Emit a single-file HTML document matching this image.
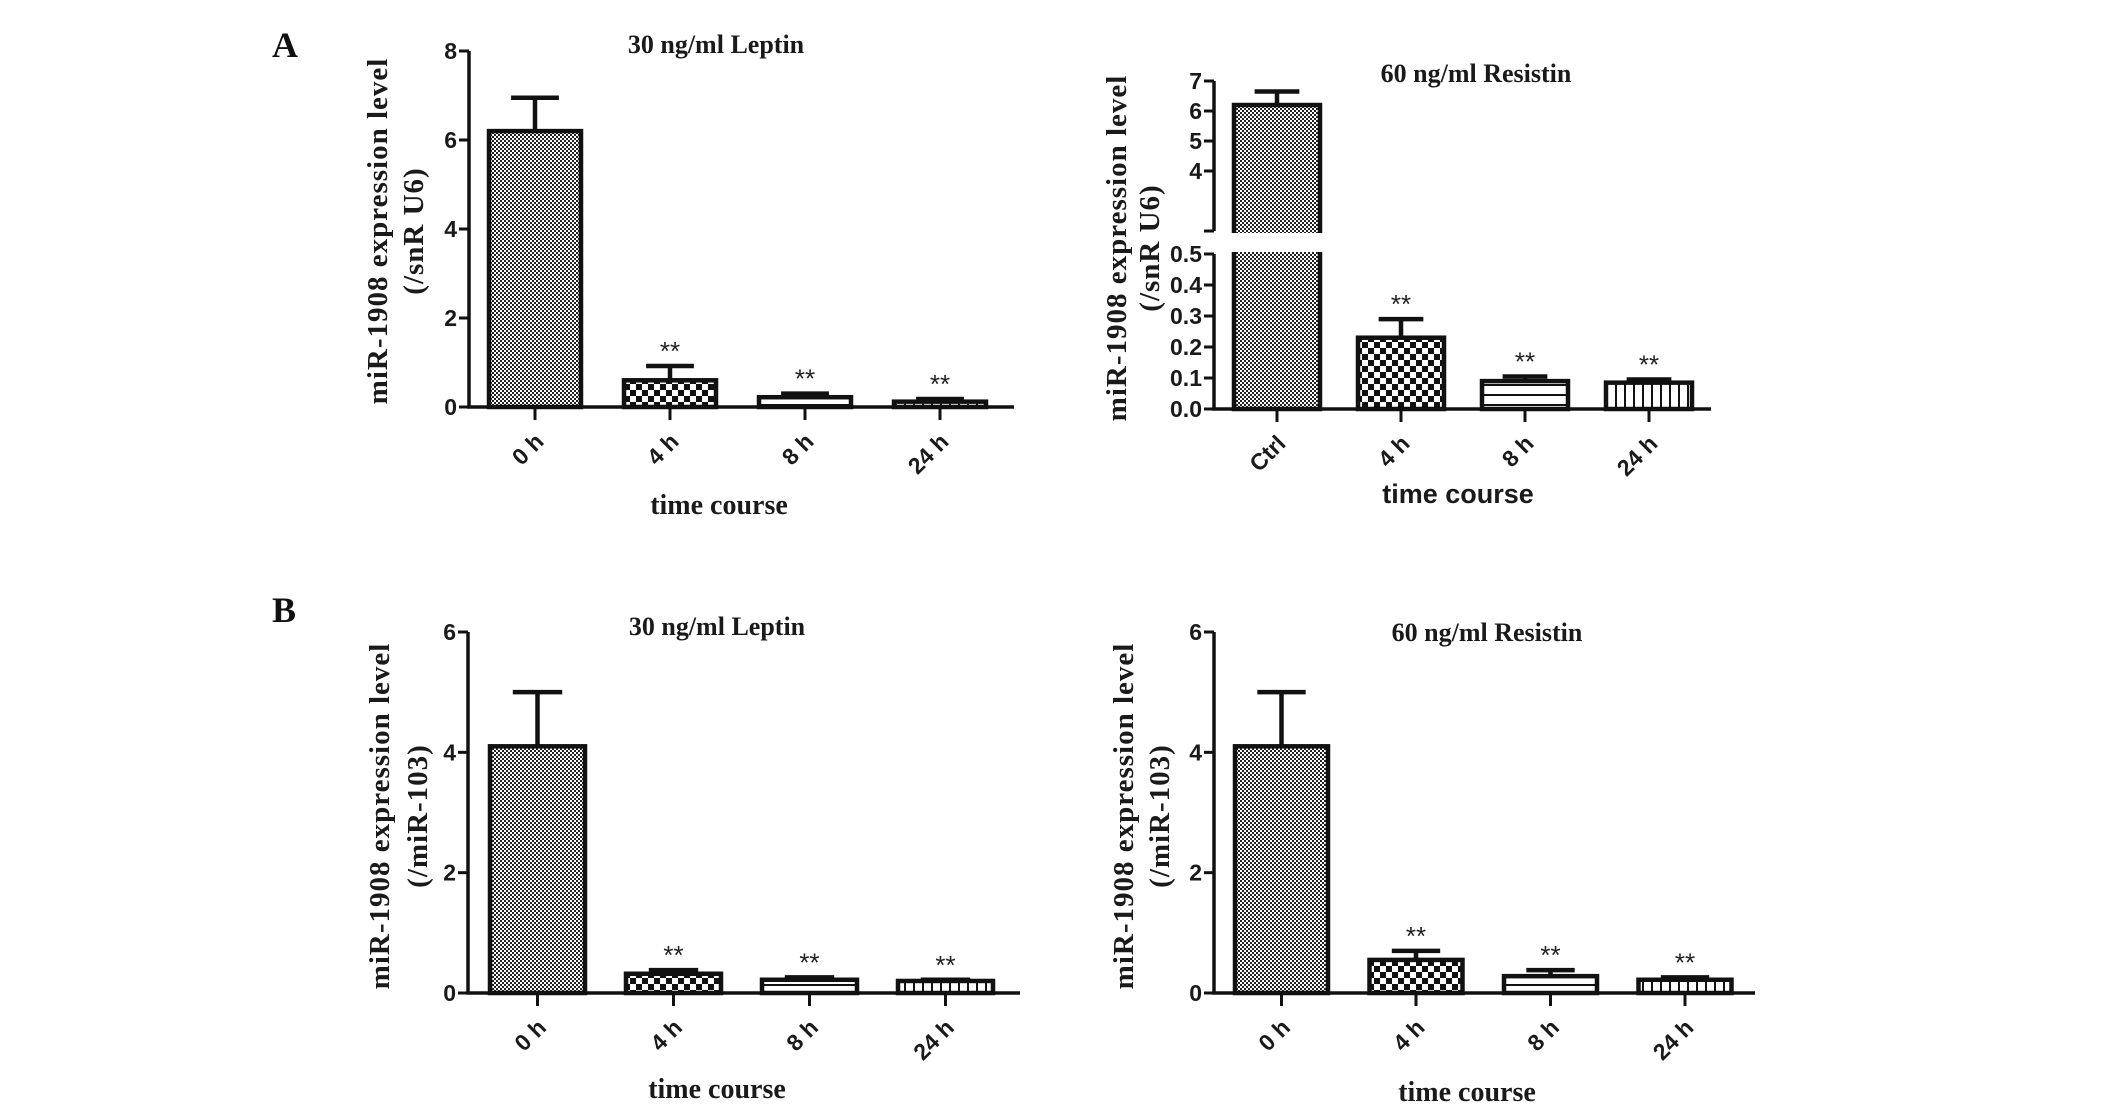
<!DOCTYPE html>
<html><head><meta charset="utf-8"><style>
html,body{margin:0;padding:0;background:#fff;}
svg{display:block;}
.tk{font-family:"Liberation Sans",Arial,sans-serif;font-weight:bold;font-size:23px;fill:#1a1a1a;}
.xk{font-family:"Liberation Sans",Arial,sans-serif;font-weight:bold;font-size:23px;fill:#1a1a1a;}
.tt{font-family:"Liberation Serif",serif;font-weight:bold;font-size:26px;fill:#1a1a1a;}
.tc{font-family:"Liberation Serif",serif;font-weight:bold;font-size:28px;fill:#1a1a1a;}
.tca{font-family:"Liberation Sans",sans-serif;font-weight:bold;font-size:27px;fill:#1a1a1a;}
.yl{font-family:"Liberation Serif",serif;font-weight:bold;font-size:29px;fill:#1a1a1a;letter-spacing:1px;}
.pl{font-family:"Liberation Serif",serif;font-weight:bold;font-size:36px;fill:#111;}
.st{font-family:"Liberation Sans",sans-serif;font-size:26px;fill:#222;}
</style></head><body>
<svg id="fig" width="2126" height="1110" viewBox="0 0 2126 1110" xmlns="http://www.w3.org/2000/svg">
<defs>
<pattern id="p0" width="4" height="4" patternUnits="userSpaceOnUse"><rect width="4" height="4" fill="#fff"/><rect width="2" height="2" fill="#222"/><rect x="2" y="2" width="2" height="2" fill="#222"/></pattern>
<pattern id="p1" width="12" height="12" patternUnits="userSpaceOnUse"><rect width="12" height="12" fill="#fff"/><rect width="6" height="6" fill="#111"/><rect x="6" y="6" width="6" height="6" fill="#111"/></pattern>
<pattern id="p2" width="10" height="10" patternUnits="userSpaceOnUse"><rect width="10" height="10" fill="#fff"/><rect y="4" width="10" height="2" fill="#111"/></pattern>
<pattern id="p3" width="9" height="10" patternUnits="userSpaceOnUse"><rect width="9" height="10" fill="#fff"/><rect x="4" width="2" height="10" fill="#111"/></pattern>
</defs>
<text class="pl" x="272" y="57">A</text>
<text class="pl" x="272" y="622">B</text>
</svg>
<script>
// Panel A left: 30 ng/ml Leptin (/snR U6)
const catsA1 = ["0 h","4 h","8 h","24 h"];
const valsA1 = [6.2, 0.6, 0.22, 0.12];
const errsA1 = [6.95, 0.92, 0.30, 0.18];
const ticksA1 = [0,2,4,6,8];
// Panel A right: 60 ng/ml Resistin (broken axis)
const catsA2 = ["Ctrl","4 h","8 h","24 h"];
const valsA2 = [6.2, 0.23, 0.09, 0.085];
const errsA2 = [6.65, 0.29, 0.105, 0.095];
const ticksA2Low = [0.0,0.1,0.2,0.3,0.4,0.5];
const ticksA2High = [4,5,6,7];
// Panel B left
const catsB1 = ["0 h","4 h","8 h","24 h"];
const valsB1 = [4.1, 0.32, 0.22, 0.20];
const errsB1 = [5.0, 0.38, 0.26, 0.22];
const ticksB1 = [0,2,4,6];
// Panel B right
const catsB2 = ["0 h","4 h","8 h","24 h"];
const valsB2 = [4.1, 0.55, 0.28, 0.22];
const errsB2 = [5.0, 0.70, 0.38, 0.26];
const ticksB2 = [0,2,4,6];
const stars = ["","**","**","**"];

const NS="http://www.w3.org/2000/svg";
const svg=document.getElementById('fig');
function mk(tag,attrs,parent){const e=document.createElementNS(NS,tag);for(const k in attrs)e.setAttribute(k,attrs[k]);(parent||svg).appendChild(e);return e;}
function txt(cls,x,y,s,anchor,parent,extra){const t=mk('text',Object.assign({class:cls,x:x,y:y,'text-anchor':anchor||'middle'},extra||{}),parent);t.textContent=s;return t;}

function panel(o){
  const g=mk('g',{});
  
  
  const yScale=o.yScale;
  const step=o.step, bw=o.bw;
  const xc=i=>o.x0+o.first+i*step+bw/2;
  o.cats.forEach((c,i)=>{
    const v=o.vals[i], e=o.errs[i];
    const x=xc(i)-bw/2, yt=yScale(v), yb=o.y0;
    const eb=mk('path',{d:`M${xc(i)} ${yt} V${yScale(e)} M${xc(i)-bw*0.26} ${yScale(e)} H${xc(i)+bw*0.26}`,stroke:'#111','stroke-width':4.5,fill:'none'},g);
    
    
    const r=mk('rect',{x:x,y:yt,width:bw,height:yb-yt,fill:'url(#p'+i+')',stroke:'#111','stroke-width':4.5},g);
    
    
    if(stars[i]){const s=txt('st',xc(i),yScale(e)-6,stars[i],'middle',g);
      
      }
    const tk=mk('line',{x1:xc(i),x2:xc(i),y1:o.y0,y2:o.y0+13,stroke:'#111','stroke-width':3},g);
    
    
    const lx=xc(i)+10, ly=o.y0+36;
    const lt=txt('xk',lx,ly,c,'end',g,{transform:`rotate(-45 ${lx} ${ly})`});
    
    
  });
  if(o.gap){const gp=mk('rect',{x:o.x0-12,y:o.gap[0],width:o.first+bw+24,height:o.gap[1]-o.gap[0],fill:'#fff'},g);
    
    }
  o.segs.forEach(sg=>{const a=mk('line',{x1:o.x0,x2:o.x0,y1:sg[0],y2:sg[1],stroke:'#111','stroke-width':3.5},g);
    
    });
  o.ticks.forEach((t,k)=>{const y=yScale(t);
    const l=mk('line',{x1:o.x0-10,x2:o.x0,y1:y,y2:y,stroke:'#111','stroke-width':3},g);
    
    
    const lab=(o.decimals&&k<o.decimals)?t.toFixed(1):String(t);
    const tl=txt('tk',o.x0-12,y+8,lab,'end',g);
    
    });
  if(o.segEnds)o.segEnds.forEach(y=>{const l=mk('line',{x1:o.x0-10,x2:o.x0,y1:y,y2:y,stroke:'#111','stroke-width':3},g);
    
    });
  const xa=mk('line',{x1:o.x0-2,x2:o.xEnd,y1:o.y0,y2:o.y0,stroke:'#111','stroke-width':3.5},g);
  
  
  const ti=txt('tt',o.titleX,o.titleY,o.title,'middle',g);
  
  
  const xt=txt(o.xCls,o.xtX,o.xtY,'time course','middle',g);
  
  
  const yt1=txt('yl',0,0,'miR-1908 expression level','middle',g,{transform:`translate(${o.ylX} ${o.ylY}) rotate(-90)`});
  
  
  const yt2=txt('yl',0,0,o.yl2,'middle',g,{transform:`translate(${o.ylX+o.ylGap} ${o.ylY}) rotate(-90)`});
  
  
}

panel({name:'chart-a-leptin',cats:catsA1,vals:valsA1,errs:errsA1,ticks:ticksA1,
  x0:469,y0:407,first:20,step:135,bw:92,xEnd:1014,
  yScale:v=>407-v*(407-51)/8,segs:[[51,407]],
  title:'30 ng/ml Leptin',titleX:716,titleY:53,xCls:'tc',xtX:719,xtY:514,
  ylX:387,ylGap:36,ylY:231,yl2:'(/snR U6)'});
panel({name:'chart-a-resistin',cats:catsA2,vals:valsA2,errs:errsA2,ticks:ticksA2Low.concat(ticksA2High),decimals:6,
  x0:1214,y0:409,first:20,step:124,bw:86,xEnd:1711,
  yScale:v=>v<=0.5?409-v*(409-254)/0.5:231-(v-2)*(231-81)/5,
  segs:[[81,231],[254,409]],segEnds:[231],gap:[233,252],
  title:'60 ng/ml Resistin',titleX:1476,titleY:82,xCls:'tca',xtX:1458,xtY:503,
  ylX:1126,ylGap:33,ylY:248,yl2:'(/snR U6)'});
panel({name:'chart-b-leptin',cats:catsB1,vals:valsB1,errs:errsB1,ticks:ticksB1,
  x0:468,y0:993,first:22,step:136,bw:95,xEnd:1020,
  yScale:v=>993-v*(993-632)/6,segs:[[632,993]],
  title:'30 ng/ml Leptin',titleX:717,titleY:635,xCls:'tc',xtX:717,xtY:1098,
  ylX:389,ylGap:38,ylY:816,yl2:'(/miR-103)'});
panel({name:'chart-b-resistin',cats:catsB2,vals:valsB2,errs:errsB2,ticks:ticksB2,
  x0:1214,y0:993,first:21,step:134.5,bw:93,xEnd:1755,
  yScale:v=>993-v*(993-632)/6,segs:[[632,993]],
  title:'60 ng/ml Resistin',titleX:1487,titleY:641,xCls:'tc',xtX:1467,xtY:1101,
  ylX:1133,ylGap:36,ylY:816,yl2:'(/miR-103)'});
</script>
</body></html>
